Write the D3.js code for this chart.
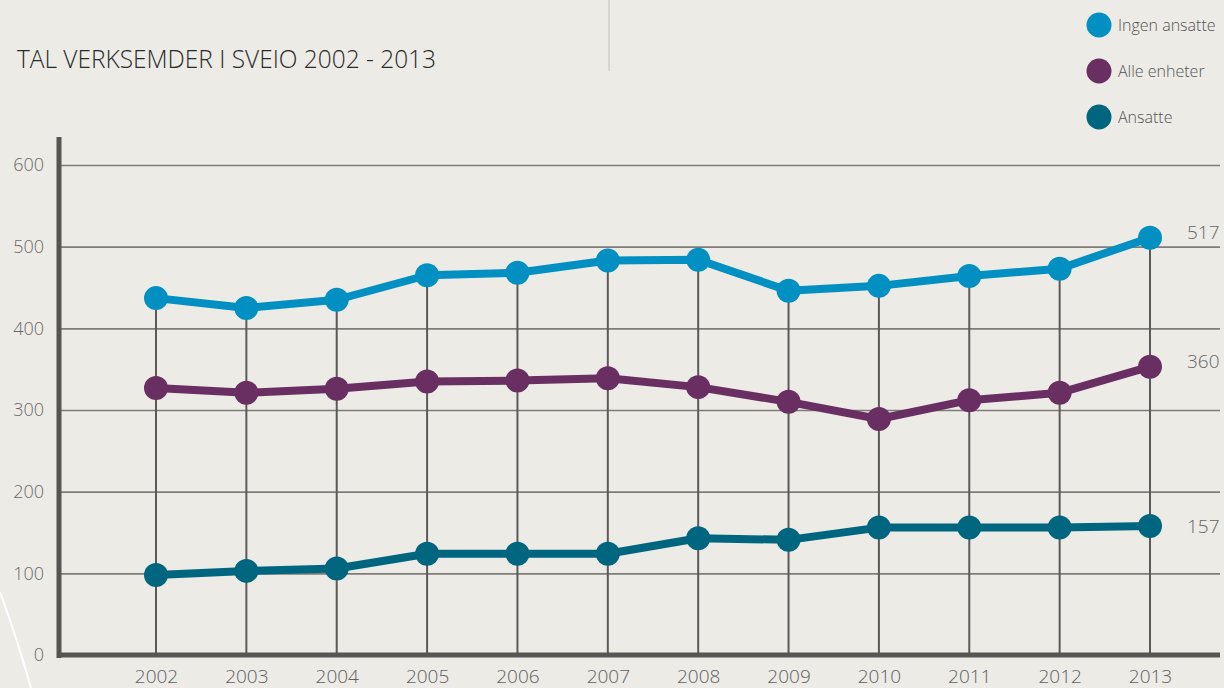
<!DOCTYPE html>
<html>
<head>
<meta charset="utf-8">
<script src="https://cdn.jsdelivr.net/npm/d3@7"></script>
<style>
  html, body { margin: 0; padding: 0; background: #ecebe6; }
  svg { display: block; }
  text { font-family: "Open Sans", "Liberation Sans", sans-serif; font-weight: 300; }
</style>
</head>
<body>
<div id="chart"><svg width="1224" height="688"></svg></div>
<script>
// data
var years = [2002, 2003, 2004, 2005, 2006, 2007, 2008, 2009, 2010, 2011, 2012, 2013]
var ingenAnsatte = [437, 425, 435, 465, 468, 483, 484, 446, 452, 464, 473, 511]
var alleEnheter = [327, 321, 326, 335, 336, 339, 328, 310, 289, 312, 321, 353]
var ansatte = [98, 103, 106, 124, 124, 124, 143, 141, 156, 156, 156, 158]
var seriesNames = ["Ingen ansatte", "Alle enheter", "Ansatte"]
var seriesColors = ["#0190c1", "#692f63", "#00657f"]
var endLabels = [517, 360, 157]
var yTicks = [0, 100, 200, 300, 400, 500, 600]
var title = "TAL VERKSEMDER I SVEIO 2002 - 2013"

var width = 1224,
    height = 688,
    left = 59,
    right = 1220,
    series = [ingenAnsatte, alleEnheter, ansatte],
    svg = d3.select('#chart svg')

var x = d3.scalePoint()
    .domain(years)
    .range([156, 1150])

var y = d3.scaleLinear()
    .domain([0, 600])
    .range([655, 165])

// title + the little separator line at the top
svg.append('text')
    .attr('x', 17)
    .attr('y', 68)
    .attr('textLength', 419)
    .attr('lengthAdjust', 'spacingAndGlyphs')
    .style('font-size', '25px')
    .style('fill', '#2a2a2a')
    .text(title)

svg.append('line')
    .attr('x1', 609).attr('x2', 609)
    .attr('y1', 0).attr('y2', 71)
    .style('stroke', '#d3cfc8')
    .style('stroke-width', 1.5)

// white arc in the lower left corner
svg.append('path')
    .attr('d', 'M0,592 Q17,638 31,688')
    .style('fill', 'none')
    .style('stroke', '#ffffff')
    .style('stroke-width', 2)

// horizontal grid + y labels
var yAxis = svg.append('g')
    .attr('transform', 'translate(' + left + ',0)')
    .call(d3.axisLeft(y)
        .tickValues(yTicks)
        .tickSize(-(right - left))
        .tickPadding(15))

yAxis.select('.domain').remove()
yAxis.selectAll('.tick line')
    .style('stroke', '#7f7d79')
    .style('stroke-width', 1.6)
yAxis.selectAll('.tick text')
    .style('font-size', '18px')
    .style('fill', '#6a6a6a')

// vertical drop lines up to the top series
svg.append('g')
    .selectAll('line')
    .data(years)
    .enter()
    .append('line')
    .attr('x1', d => x(d))
    .attr('x2', d => x(d))
    .attr('y1', y(0))
    .attr('y2', (d, i) => y(d3.max(series, s => s[i])))
    .style('stroke', '#5b5a58')
    .style('stroke-width', 2)

// x labels
var xAxis = svg.append('g')
    .attr('transform', 'translate(0,' + y(0) + ')')
    .call(d3.axisBottom(x)
        .tickSize(0)
        .tickPadding(15))

xAxis.select('.domain').remove()
xAxis.selectAll('.tick text')
    .style('font-size', '19px')
    .style('fill', '#616161')

// thick axis lines
svg.append('line')
    .attr('x1', left).attr('x2', left)
    .attr('y1', y(600) - 28).attr('y2', y(0) + 3)
    .style('stroke', '#575553')
    .style('stroke-width', 5)

svg.append('line')
    .attr('x1', left - 2).attr('x2', right)
    .attr('y1', y(0)).attr('y2', y(0))
    .style('stroke', '#575553')
    .style('stroke-width', 5)

// series
var line = d3.line()
    .x((d, i) => x(years[i]))
    .y(d => y(d))

var groups = svg.selectAll('.series')
    .data(series)
    .enter()
    .append('g')
    .attr('class', 'series')

groups.append('path')
    .attr('d', d => line(d))
    .style('fill', 'none')
    .style('stroke', (d, i) => seriesColors[i])
    .style('stroke-width', 8)
    .style('stroke-linejoin', 'round')

groups.each(function(d, i) {
    d3.select(this).selectAll('circle')
        .data(d)
        .enter()
        .append('circle')
        .attr('cx', (v, j) => x(years[j]))
        .attr('cy', v => y(v))
        .attr('r', 12)
        .style('fill', seriesColors[i])
})

// value labels at the right end
svg.selectAll('.end-label')
    .data(endLabels)
    .enter()
    .append('text')
    .attr('class', 'end-label')
    .attr('x', 1187)
    .attr('y', d => y(d))
    .attr('dy', '0.35em')
    .style('font-size', '19px')
    .style('fill', '#666')
    .text(d => d)

// legend
var legend = svg.selectAll('.legend')
    .data(seriesNames)
    .enter()
    .append('g')
    .attr('class', 'legend')
    .attr('transform', (d, i) => 'translate(1099,' + (25 + i * 46) + ')')

legend.append('circle')
    .attr('r', 12.5)
    .style('fill', (d, i) => seriesColors[i])

legend.append('text')
    .attr('x', 19)
    .attr('dy', '0.35em')
    .style('font-size', '16px')
    .style('fill', '#555')
    .text(d => d)
</script>
</body>
</html>
